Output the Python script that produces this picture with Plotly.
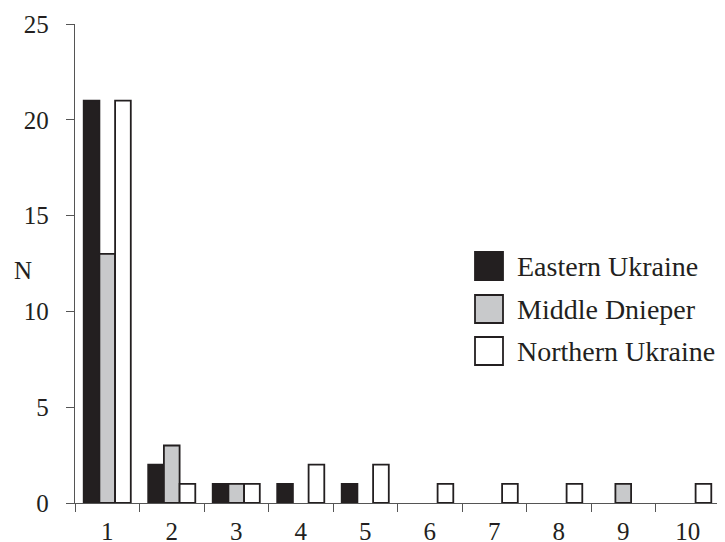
import plotly.graph_objects as go

categories = ["1", "2", "3", "4", "5", "6", "7", "8", "9", "10"]
series_names = ["Eastern Ukraine", "Middle Dnieper", "Northern Ukraine"]
eastern = [21, 2, 1, 1, 1, 0, 0, 0, 0, 0]
middle = [13, 3, 1, 0, 0, 0, 0, 0, 1, 0]
northern = [21, 1, 1, 2, 2, 1, 1, 1, 0, 1]
y_ticks = [0, 5, 10, 15, 20, 25]
y_title = "N"

colors = ["#231f20", "#c8c9cb", "#ffffff"]
edge = "#231f20"
axis_col = "#555555"
font_family = "Liberation Serif"

# page body has an 8px default margin; compensate so the figure lands on the window
OFF = 8
W, H = 725 - OFF, 542 - OFF
L, R, T, B = 75 - OFF, 5, 24 - OFF, 39
pw, ph = W - L - R, H - T - B

fig = go.Figure()
for name, vals, col in zip(series_names, [eastern, middle, northern], colors):
    # zero counts draw no bar (and no flat outline) in the reference
    shown = [v if v else None for v in vals]
    fig.add_trace(go.Bar(
        x=categories, y=shown, name=name,
        marker=dict(color=col, line=dict(color=edge, width=1.8)),
        showlegend=False,
    ))

# manual legend (large square swatches); coordinates given in window pixels
def px_to_paper(px, py):
    return (px - OFF - L) / pw, (H - B - (py - OFF)) / ph

sw_x0, sw_x1 = 475, 503
sw_tops = [252, 295, 337]
for name, col, top in zip(series_names, colors, sw_tops):
    x0, y0 = px_to_paper(sw_x0, top + 28)
    x1, y1 = px_to_paper(sw_x1, top)
    fig.add_shape(type="rect", xref="paper", yref="paper",
                  x0=x0, x1=x1, y0=y0, y1=y1,
                  fillcolor=col, line=dict(color=edge, width=1.8))
    tx, ty = px_to_paper(515, top + 14)
    fig.add_annotation(text=name, xref="paper", yref="paper", x=tx, y=ty,
                       xanchor="left", yanchor="middle", showarrow=False,
                       font=dict(size=28, color=edge, family=font_family))

nx, ny = px_to_paper(23, 270)
fig.add_annotation(text=y_title, xref="paper", yref="paper", x=nx, y=ny,
                   xanchor="center", yanchor="middle", showarrow=False,
                   font=dict(size=25, color=edge, family=font_family))

fig.update_layout(
    template="none",
    width=W, height=H,
    margin=dict(l=L, r=R, t=T, b=B),
    paper_bgcolor="white", plot_bgcolor="white",
    barmode="group", bargap=0.27, bargroupgap=0,
    font=dict(family=font_family, size=25, color=edge),
    xaxis=dict(
        type="category", tickson="boundaries", ticks="outside", ticklen=8,
        tickwidth=1.3, tickcolor=axis_col, showline=True, linecolor=axis_col,
        linewidth=1.3, showgrid=False, zeroline=False, automargin=False,
        ticklabelstandoff=6, tickfont=dict(size=25, color=edge),
    ),
    yaxis=dict(
        range=[0, 25], tickvals=y_ticks, ticks="outside", ticklen=8,
        tickwidth=1.3, tickcolor=axis_col, showline=True, linecolor=axis_col,
        linewidth=1.3, showgrid=False, zeroline=False, automargin=False,
        ticklabelstandoff=12, tickfont=dict(size=25, color=edge),
    ),
)

fig.write_html("out.html")
